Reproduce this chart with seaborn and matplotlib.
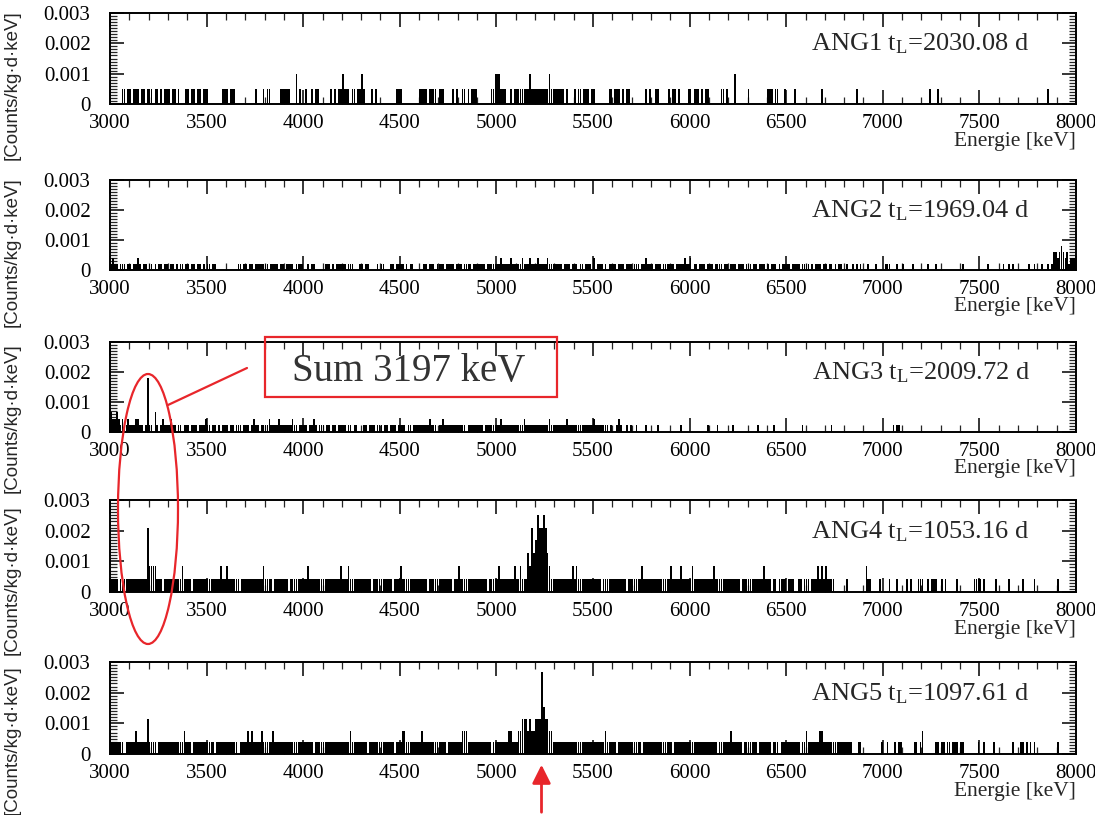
import matplotlib
matplotlib.use("Agg")
import numpy as np
import pandas as pd
import seaborn as sns
import matplotlib.pyplot as plt
from matplotlib.patches import Rectangle, Ellipse
from matplotlib.lines import Line2D
from matplotlib.ticker import MultipleLocator, FuncFormatter

# ---------------- data ----------------
E_MIN, E_MAX, BIN_KEV = 3000, 8000, 10

detectors = ["ANG1", "ANG2", "ANG3", "ANG4", "ANG5"]
live_times = ["2030.08", "1969.04", "2009.72", "1053.16", "1097.61"]
# rate corresponding to one count in a bin, per detector [Counts/kg/d/keV]
count_units = [0.00049, 0.0002, 0.000225, 0.00042, 0.00038]

# counts per 10 keV bin; each line = 1000 keV, each group = 100 keV
ang1_counts = [
    "0000001101 1011101101 1101101011 1011010001 1011011011 1000000011 1011100000 0000010001 0110000011 1110002010",
    "0100101100 0000101011 2111011011 2100010100 0000000011 1000000000 1111011110 1110000101 0011010111 0000000112",
    "2211100101 1111111211 1111111211 1111101000 1011011101 1000000011 0111010110 0000000101 0011000001 0110100001",
    "1011101011 0000001101 0002000000 1000000000 1110110001 0000100000 0000000010 0000000000 0000001000 0000000000",
    "0000000000 0000000000 0000100010 0000000000 0000000000 0000000000 0000000000 0000000000 0000010000 0000000000",
]
ang2_counts = [
    "1211011101 1011210110 1101011011 0110101101 1011011010 1101100000 0000001101 1011011111 1101111011 0111101111",
    "0010110000 0111010111 1101110001 1011000010 1100011011 1101011000 0011011101 1110111101 1101111011 1111011111",
    "1121111211 1112111211 1211112111 1111011101 1101101110 2011101011 1101110111 0111011211 1011101111 1101111211",
    "2011011101 1101111011 0111011101 1101101110 1011101011 1101111011 1101011101 1011010110 0100101010 0010001000",
    "0111000100 1000010000 0001000100 0000000000 0100000000 0000100000 0010010100 0000010010 0010010133 2343231222",
]
ang3_counts = [
    "3223212112 1112211018 1103101211 1211011011 1011101112 1101101011 1011011101 1101211011 1121111211 1111211011",
    "1101121011 1011011011 1101101100 0110111011 1011011101 1110110111 1111121110 1121111111 1111011111 1110111111",
    "1121111111 1111211111 1111111211 1111112111 1111111111 2111111101 0012100101 0010000100 0001000000 0000010000",
    "0000000001 0000100000 0010000000 0000010000 0001000000 0000000010 0000000000 0001000000 0000000000 0000000000",
    "0000010110 0000000000 0000000000 0000000000 0000000000 0000000000 0000000000 0000000000 0000000000 0000000000",
]
ang4_counts = [
    "1111011111 1111111115 2222111011 1111111211 1101111111 1111111211 2111111011 1111111112 1111011111 1101111111",
    "1121111111 1111111112 1112111111 1111101111 1111110111 2111111111 1111011111 1111111011 2111111111 1111101111",
    "1211111112 1121113253 4655653211 1111111112 1211111111 1111011111 1111111011 1111121111 1111111111 2111121111",
    "1211111111 1121111111 1111110111 1111111121 1101101111 0111001101 1101112121 2111100000 0100000000 0211000010",
    "0001000100 0010100011 1001011100 1010000010 0000000111 1010000010 0000010000 0010000010 0000000000 1000000000",
]
ang5_counts = [
    "1111111011 1112111113 1111011111 1111111121 1101111111 1111011111 1111110111 1212111121 1111211111 1111111111",
    "1111101111 1111111111 1111211111 1110111111 1111111011 1221111111 1211111111 1111011111 1122211111 1111111011",
    "1111112211 1223332322 3337433221 1111111111 1111111111 1111112111 1101111111 1111101111 1111111111 1011111111",
    "1111111111 1111011111 1211111011 1111101111 1101110111 1111111011 2111111221 1111111111 1111000110 0000000001",
    "0010001011 0000001101 2000000110 1101101110 1100000001 0010000100 0000000100 0110101010 0000000000 1000000000",
]
all_counts = [ang1_counts, ang2_counts, ang3_counts, ang4_counts, ang5_counts]

x_ticks = [3000, 3500, 4000, 4500, 5000, 5500, 6000, 6500, 7000, 7500, 8000]
y_ticks = [0, 0.001, 0.002, 0.003]

# ---------------- build long table ----------------
n_bins = (E_MAX - E_MIN) // BIN_KEV
centers = E_MIN + BIN_KEV * np.arange(n_bins) + BIN_KEV / 2
rows = []
for det, lines, unit in zip(detectors, all_counts, count_units):
    digits = "".join(lines).replace(" ", "")
    assert len(digits) == n_bins, (det, len(digits))
    for c, d in zip(centers, digits):
        rows.append((det, c, int(d) * unit))
df = pd.DataFrame(rows, columns=["detector", "energy", "rate"])

# ---------------- figure ----------------
sns.set_style("ticks")
plt.rcParams["font.family"] = ["Liberation Serif", "DejaVu Serif"]
plt.rcParams["mathtext.fontset"] = "custom"
plt.rcParams["mathtext.rm"] = "Liberation Serif"
plt.rcParams["mathtext.it"] = "Liberation Serif:italic"

W, H = 1095, 815
fig = plt.figure(figsize=(W / 100, H / 100), dpi=100)

left_px, right_px = 110, 1076
tops = [13, 180, 342, 500, 662]
bottoms = [104, 270, 432, 592, 754]
ylabel_centers = [85, 252, 418, 580, 740]

for i, det in enumerate(detectors):
    ax = fig.add_axes([left_px / W, 1 - bottoms[i] / H,
                       (right_px - left_px) / W, (bottoms[i] - tops[i]) / H])
    sub = df[df["detector"] == det]
    sns.histplot(data=sub, x="energy", weights="rate",
                 binwidth=BIN_KEV, binrange=(E_MIN, E_MAX),
                 color="black", alpha=1, linewidth=0, shrink=0.9, ax=ax)
    ax.set_xlim(E_MIN, E_MAX)
    ax.set_ylim(0, 0.003)
    ax.set_xticks(x_ticks)
    ax.set_yticks(y_ticks)
    ax.xaxis.set_minor_locator(MultipleLocator(100))
    ax.yaxis.set_minor_locator(MultipleLocator(0.0001))
    ax.yaxis.set_major_formatter(FuncFormatter(lambda v, p: "0" if v == 0 else f"{v:.3f}"))
    ax.tick_params(which="both", direction="in", top=True, right=True)
    ax.tick_params(which="major", length=10, width=1.1, labelsize=15, colors="black")
    ax.tick_params(which="minor", length=5, width=0.9)
    ax.tick_params(axis="x", which="major", pad=7)
    ax.tick_params(axis="y", which="major", pad=14)
    for s in ax.spines.values():
        s.set_linewidth(1.4)
        s.set_color("black")
    ax.set_xlabel("")
    ax.set_ylabel("")
    ax.text(0.952, 0.66, f"{det} t$_\\mathrm{{L}}$={live_times[i]} d",
            transform=ax.transAxes, ha="right", va="center", fontsize=19)
    ax.text(1.0, -0.41, "Energie [keV]", transform=ax.transAxes,
            ha="right", va="center", fontsize=15.5)
    fig.text(12 / W, 1 - ylabel_centers[i] / H, "[Counts/kg\u00b7d\u00b7keV]",
             rotation=90, ha="center", va="center", fontsize=13.5,
             family=["Liberation Sans", "DejaVu Sans"])

# ---------------- red annotations (figure pixels -> inches) ----------------
def px(x, y):
    return x / 100, (H - y) / 100

tr = fig.dpi_scale_trans
x0, y0 = px(265, 397)
fig.add_artist(Rectangle((x0, y0), 292 / 100, 60 / 100, transform=tr,
                         fill=False, edgecolor="#e8262b", linewidth=1.6))
fig.text(409 / W, 1 - 372 / H, "Sum 3197 keV", ha="center", va="center",
         fontsize=28, color="#333333")
cx, cy = px(148, 509)
fig.add_artist(Ellipse((cx, cy), 60 / 100, 270 / 100, transform=tr,
                       fill=False, edgecolor="#e8262b", linewidth=1.6))
la, lb = px(168, 405), px(247, 368)
fig.add_artist(Line2D([la[0], lb[0]], [la[1], lb[1]], transform=tr,
                      color="#e8262b", linewidth=1.6))
fig.axes[-1].annotate("", xy=(541.5, H - 762), xytext=(541.5, 0),
                      xycoords="figure pixels", textcoords="figure pixels",
                      arrowprops=dict(arrowstyle="-|>", color="#e8262b", lw=2,
                                      mutation_scale=28),
                      annotation_clip=False)

fig.savefig("out.png", dpi=100)
